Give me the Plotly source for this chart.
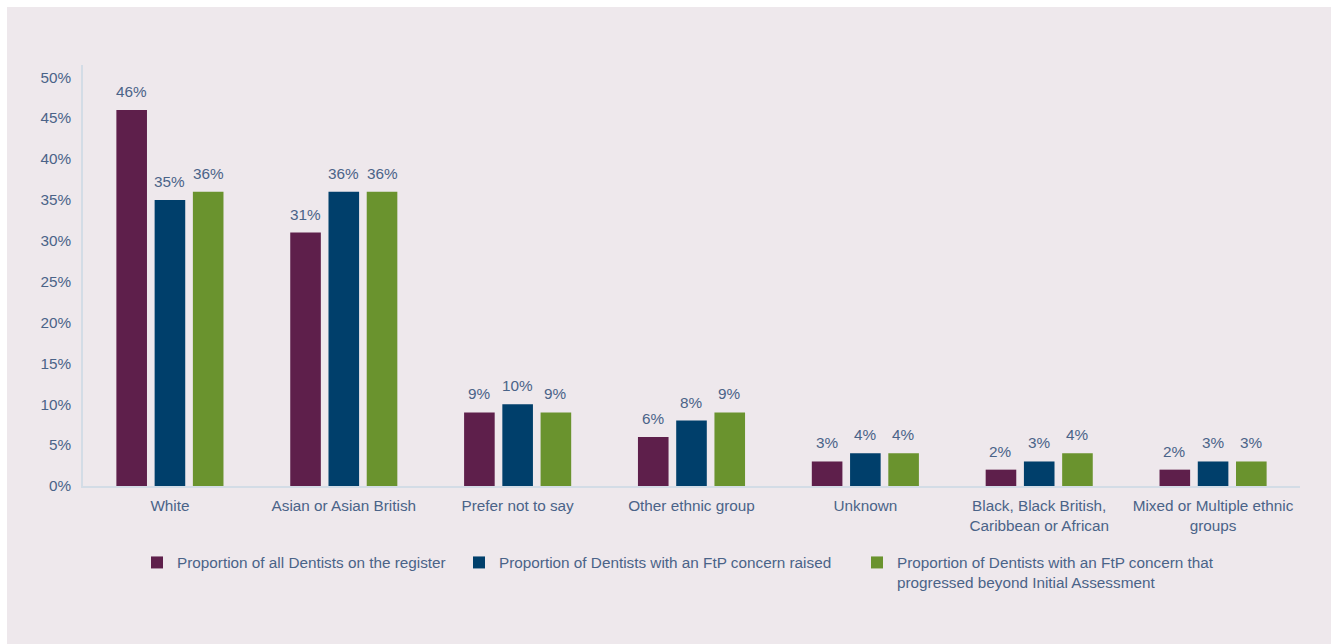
import plotly.graph_objects as go

# Ethnic group categories (x axis)
categories = [
    "White",
    "Asian or Asian British",
    "Prefer not to say",
    "Other ethnic group",
    "Unknown",
    "Black, Black British,<br>Caribbean or African",
    "Mixed or Multiple ethnic<br>groups",
]

# Percentages per series
register_pct = [46, 31, 9, 6, 3, 2, 2]
concern_pct = [35, 36, 10, 8, 4, 3, 3]
progressed_pct = [36, 36, 9, 9, 4, 4, 3]

series_names = [
    "Proportion of all Dentists on the register",
    "Proportion of Dentists with an FtP concern raised",
    "Proportion of Dentists with an FtP concern that<br>progressed beyond Initial Assessment",
]
series_values = [register_pct, concern_pct, progressed_pct]
series_colors = ["#5E1F4B", "#003F6B", "#6A932E"]

y_ticks = [0, 5, 10, 15, 20, 25, 30, 35, 40, 45, 50]

FONT = "Liberation Sans, Arial, Helvetica, sans-serif"
TEXT_COLOR = "#4A6388"
AXIS_COLOR = "#D3DCE6"
PANEL = "#EEE8EC"
FS = 15.3

W, H = 1331, 644
ML, MR, MT, MB = 83, 31, 65, 158
plot_w = W - ML - MR
plot_h = H - MT - MB

BARGAP = 0.34
GROUPGAP = 0.2

fig = go.Figure()
legend_ids = ["legend", "legend2", "legend3"]
for name, vals, color, lid in zip(series_names, series_values, series_colors, legend_ids):
    fig.add_trace(go.Bar(
        x=categories, y=vals, name=name,
        marker=dict(color=color, line=dict(width=0)),
        legend=lid,
        hoverinfo="skip",
    ))

# value labels above each bar, offset sideways to sit on their own bar
cat_px = plot_w / len(categories)
slot_px = cat_px * (1 - BARGAP) / len(series_values)
for s, vals in enumerate(series_values):
    shift = (s - (len(series_values) - 1) / 2) * slot_px
    for cat, v in zip(categories, vals):
        fig.add_annotation(
            x=cat, y=v, xref="x", yref="y",
            text=f"{v}%", showarrow=False,
            xanchor="center", yanchor="bottom",
            xshift=shift, yshift=8,
            font=dict(family=FONT, size=FS, color=TEXT_COLOR),
        )

# panel background
def px_to_paper_x(px):
    return (px - ML) / plot_w

def px_to_paper_y(py):
    return (H - MB - py) / plot_h

fig.add_shape(
    type="rect", xref="paper", yref="paper", layer="below",
    x0=px_to_paper_x(7), x1=px_to_paper_x(W + 2),
    y0=px_to_paper_y(H + 2), y1=px_to_paper_y(7),
    fillcolor=PANEL, line=dict(width=0),
)

legend_common = dict(
    orientation="h", yanchor="top", xanchor="left",
    font=dict(family=FONT, size=FS, color=TEXT_COLOR),
    bgcolor="rgba(0,0,0,0)", borderwidth=0, valign="top",
    itemclick=False, itemdoubleclick=False,
)
legend_y = px_to_paper_y(546)

fig.update_layout(
    width=W, height=H,
    margin=dict(l=ML, r=MR, t=MT, b=MB, pad=0),
    paper_bgcolor="white",
    plot_bgcolor="rgba(0,0,0,0)",
    barmode="group", bargap=BARGAP, bargroupgap=GROUPGAP,
    showlegend=True,
    legend=dict(legend_common, x=px_to_paper_x(137), y=legend_y),
    legend2=dict(legend_common, x=px_to_paper_x(459), y=legend_y),
    legend3=dict(legend_common, x=px_to_paper_x(857), y=legend_y),
    font=dict(family=FONT, size=FS, color=TEXT_COLOR),
    xaxis=dict(
        showline=True, linecolor=AXIS_COLOR, linewidth=1.5,
        showgrid=False, zeroline=False,
        ticks="outside", ticklen=5, tickcolor="rgba(0,0,0,0)",
        tickfont=dict(family=FONT, size=FS, color=TEXT_COLOR),
    ),
    yaxis=dict(
        range=[0, 51.5], tickvals=y_ticks, ticktext=[f"{t}%" for t in y_ticks],
        showline=True, linecolor=AXIS_COLOR, linewidth=1.5,
        showgrid=False, zeroline=False,
        ticks="outside", ticklen=7, tickcolor="rgba(0,0,0,0)",
        tickfont=dict(family=FONT, size=FS, color=TEXT_COLOR),
    ),
)

fig.write_html("out.html")
